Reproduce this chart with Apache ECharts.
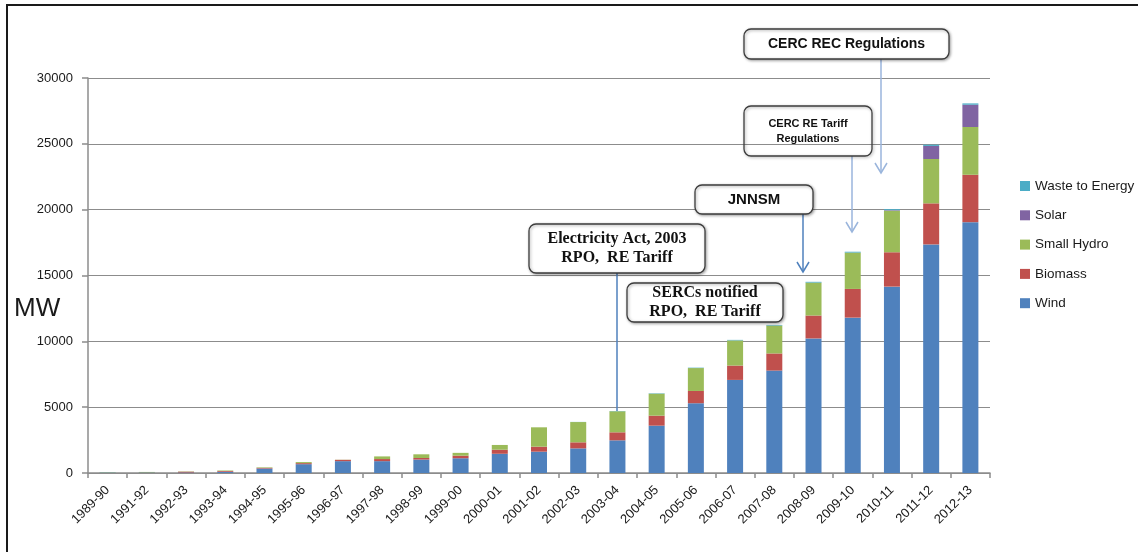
<!DOCTYPE html>
<html>
<head>
<meta charset="utf-8">
<script src="https://cdn.jsdelivr.net/npm/echarts@6/dist/echarts.min.js"></script>
<style>
  html, body { margin: 0; padding: 0; background: #ffffff; }
  #chart { width: 1138px; height: 552px; }
</style>
</head>
<body>
<div id="chart"></div>
<script>
// Cumulative installed renewable capacity in India (MW), by source and year
const categories = ['1989-90','1991-92','1992-93','1993-94','1994-95','1995-96','1996-97','1997-98',
  '1998-99','1999-00','2000-01','2001-02','2002-03','2003-04','2004-05','2005-06','2006-07',
  '2007-08','2008-09','2009-10','2010-11','2011-12','2012-13'];

const wind       = [30, 40, 40, 90, 340, 670, 900, 900, 1020, 1120, 1460, 1620, 1870, 2480, 3595, 5300, 7070, 7780, 10220, 11800, 14155, 17360, 19050];
const biomass    = [0, 10, 60, 60, 50, 80, 100, 160, 120, 196, 310, 380, 460, 610, 760, 930, 1090, 1300, 1740, 2180, 2610, 3120, 3600];
const smallHydro = [20, 30, 20, 40, 40, 80, 10, 200, 280, 214, 360, 1470, 1540, 1600, 1670, 1740, 1910, 2120, 2500, 2760, 3160, 3370, 3630];
const solar      = [0, 0, 0, 0, 0, 0, 0, 0, 0, 0, 0, 0, 0, 0, 0, 0, 0, 0, 0, 0, 40, 990, 1690];
const wasteToEnergy = [0, 0, 0, 0, 0, 0, 0, 0, 0, 0, 0, 0, 10, 20, 30, 30, 40, 45, 60, 65, 75, 95, 100];

const yTicks = { min: 0, max: 30000, interval: 5000 };

const COLORS = {
  wind: '#4f81bd', biomass: '#c0504d', hydro: '#9bbb59', solar: '#8064a2', waste: '#4bacc6'
};
const AXIS_FONT = 'Liberation Sans, Arial, sans-serif';

const chart = echarts.init(document.getElementById('chart'), null, { renderer: 'canvas' });

function barSeries(name, data, color) {
  return {
    name: name,
    type: 'bar',
    stack: 'total',
    data: data,
    barWidth: 16,
    itemStyle: { color: color },
    emphasis: { disabled: true }
  };
}

chart.setOption({
  animation: false,
  backgroundColor: '#ffffff',
  grid: { left: 88, right: 148, top: 78, bottom: 79, containLabel: false },
  legend: {
    orient: 'vertical',
    left: 1015,
    top: 174,
    itemWidth: 10,
    itemHeight: 10,
    itemGap: 15.3,
    icon: 'rect',
    data: ['Waste to Energy', 'Solar', 'Small Hydro', 'Biomass', 'Wind'],
    textStyle: { fontFamily: AXIS_FONT, fontSize: 13.5, color: '#1a1a1a', padding: 0 }
  },
  xAxis: {
    type: 'category',
    data: categories,
    boundaryGap: true,
    axisLine: { lineStyle: { color: '#8c8c8c', width: 1.5 } },
    axisTick: { show: true, length: 5, alignWithLabel: false, lineStyle: { color: '#8c8c8c', width: 1.5 } },
    axisLabel: { rotate: 45, interval: 0, margin: 15, fontFamily: AXIS_FONT, fontSize: 13, color: '#1a1a1a' },
    splitLine: { show: false }
  },
  yAxis: {
    type: 'value',
    min: yTicks.min,
    max: yTicks.max,
    interval: yTicks.interval,
    axisLine: { show: true, lineStyle: { color: '#8c8c8c', width: 1.5 } },
    axisTick: { show: true, length: 6, lineStyle: { color: '#8c8c8c', width: 1.5 } },
    axisLabel: { margin: 15, fontFamily: AXIS_FONT, fontSize: 13, color: '#1a1a1a',
                 formatter: function (v) { return String(v); } },
    splitLine: { show: true, lineStyle: { color: '#8c8c8c', width: 1.2 } }
  },
  series: [
    barSeries('Wind', wind, COLORS.wind),
    barSeries('Biomass', biomass, COLORS.biomass),
    barSeries('Small Hydro', smallHydro, COLORS.hydro),
    barSeries('Solar', solar, COLORS.solar),
    barSeries('Waste to Energy', wasteToEnergy, COLORS.waste)
  ]
});

// Top of the 2003-04 stack, where the Electricity Act call-out line ends
const idx0304 = categories.indexOf('2003-04');
const top0304 = wind[idx0304] + biomass[idx0304] + smallHydro[idx0304] + solar[idx0304] + wasteToEnergy[idx0304];
const actEnd = chart.convertToPixel({ gridIndex: 0 }, [idx0304, top0304]);

const SERIF = 'Liberation Serif, DejaVu Serif, serif';
const SANS = 'Liberation Sans, Arial, sans-serif';
const LIGHT = '#9ab5dc';
const MID = '#4f81bd';

function box(x, y, w, h, fill) {
  return {
    type: 'rect', z: 100,
    shape: { x: x, y: y, width: w, height: h, r: 7 },
    style: { fill: fill, stroke: '#3d3d3d', lineWidth: 1.3,
             shadowBlur: 3, shadowColor: 'rgba(0,0,0,0.35)', shadowOffsetX: 1, shadowOffsetY: 1 }
  };
}
function label(x, y, text, font, size, lh) {
  return {
    type: 'text', z: 101, x: x, y: y,
    style: { text: text, fontFamily: font, fontWeight: 'bold', fontSize: size, lineHeight: lh || size + 2,
             fill: '#111111', align: 'center', verticalAlign: 'middle' }
  };
}
function vline(x, y1, y2, color) {
  return { type: 'line', z: 99, shape: { x1: x, y1: y1, x2: x, y2: y2 },
           style: { stroke: color, lineWidth: 1.5 } };
}
function arrowHead(x, y, color) {
  return { type: 'polyline', z: 99, shape: { points: [[x - 6, y - 10], [x, y], [x + 6, y - 10]] },
           style: { stroke: color, lineWidth: 1.5, fill: null } };
}

chart.setOption({
  graphic: [
    // frame
    { type: 'rect', z: 0, silent: true, shape: { x: 7, y: 5, width: 1200, height: 600 },
      style: { fill: null, stroke: '#1a1a1a', lineWidth: 2 } },
    // axis title
    { type: 'text', z: 101, x: 14, y: 309,
      style: { text: 'MW', fontFamily: SANS, fontSize: 26, fill: '#1a1a1a', verticalAlign: 'middle' } },

    // CERC REC Regulations
    vline(881, 59, 173, LIGHT), arrowHead(881, 173, LIGHT),
    box(744, 29, 205, 30, '#ffffff'),
    label(846.5, 44.5, 'CERC REC Regulations', SANS, 14),

    // CERC RE Tariff Regulations
    vline(852, 156, 232, LIGHT), arrowHead(852, 232, LIGHT),
    box(744, 106, 128, 50, null),
    label(808, 131, 'CERC RE Tariff\nRegulations', SANS, 11, 15),

    // JNNSM
    vline(803, 214, 272, MID), arrowHead(803, 272, MID),
    box(695, 185, 118, 29, '#ffffff'),
    label(754, 200, 'JNNSM', SANS, 15),

    // Electricity Act, 2003
    vline(617, 273, actEnd[1], MID),
    box(529, 224, 176, 49, '#ffffff'),
    label(617, 248.5, 'Electricity Act, 2003\nRPO,  RE Tariff', SERIF, 16, 19),

    // SERCs notified
    box(627, 283, 156, 39, '#ffffff'),
    label(705, 302.5, 'SERCs notified\nRPO,  RE Tariff', SERIF, 16, 19)
  ]
});
</script>
</body>
</html>
